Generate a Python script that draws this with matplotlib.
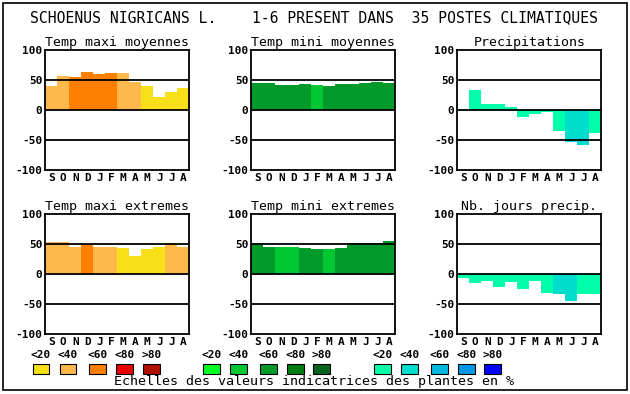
import matplotlib
matplotlib.use("Agg")
import matplotlib.pyplot as plt
from matplotlib.patches import Rectangle

plt.rcParams['font.family'] = ['DejaVu Sans Mono']

months = ["S", "O", "N", "D", "J", "F", "M", "A", "M", "J", "J", "A"]

temp_maxi_moy = [40, 57, 55, 63, 60, 62, 62, 47, 40, 22, 30, 37]
temp_maxi_moy_cls = [1, 1, 2, 2, 2, 2, 1, 1, 0, 0, 0, 0]

temp_mini_moy = [45, 45, 42, 42, 43, 42, 40, 43, 43, 45, 47, 45]
temp_mini_moy_cls = [2, 2, 2, 2, 2, 1, 2, 2, 2, 2, 2, 2]

precip = [2, 33, 10, 10, 5, -12, -7, -3, -35, -53, -58, -38]
precip_cls = [0, 0, 0, 0, 0, 0, 0, 0, 0, 1, 1, 0]

temp_maxi_ext = [54, 54, 46, 49, 46, 46, 43, 31, 42, 46, 52, 46]
temp_maxi_ext_cls = [1, 1, 1, 2, 1, 1, 0, 0, 0, 0, 1, 1]

temp_mini_ext = [52, 46, 46, 46, 43, 42, 42, 43, 52, 52, 52, 55]
temp_mini_ext_cls = [2, 2, 1, 1, 2, 2, 1, 2, 2, 2, 2, 2]

nb_jours = [-6, -14, -11, -21, -13, -24, -11, -31, -33, -44, -33, -33]
nb_jours_cls = [0, 0, 0, 0, 0, 0, 0, 0, 1, 1, 0, 0]

class_labels = ["<20", "<40", "<60", "<80", ">80"]
warm = ["#F8E018", "#FFB84C", "#FF8000", "#E80000", "#B01000"]
green = ["#00FF20", "#00C832", "#009A2A", "#007C10", "#006420"]
blue = ["#00FFAA", "#00DDCC", "#00B8E0", "#0098E8", "#0000FF"]

title = "SCHOENUS NIGRICANS L.    1-6 PRESENT DANS  35 POSTES CLIMATIQUES"
footer = "Echelles des valeurs indicatrices des plantes en %"

W, H = 630, 394
fig = plt.figure(figsize=(W / 100, H / 100), dpi=100)

def fx(px):
    return px / W

def fy(py):
    return 1 - py / H

# outer frame
fig.patches.append(Rectangle((fx(3), fy(390)), fx(624), (390 - 3) / H, transform=fig.transFigure,
                             fill=False, edgecolor="black", linewidth=1.2))

fig.text(fx(314), fy(18), title, ha="center", va="center", fontsize=10.6)

panels = [
    ("Temp maxi moyennes", temp_maxi_moy, temp_maxi_moy_cls, warm, 45.3, 50),
    ("Temp mini moyennes", temp_mini_moy, temp_mini_moy_cls, green, 251.3, 50),
    ("Precipitations", precip, precip_cls, blue, 457.3, 50),
    ("Temp maxi extremes", temp_maxi_ext, temp_maxi_ext_cls, warm, 45.3, 214.3),
    ("Temp mini extremes", temp_mini_ext, temp_mini_ext_cls, green, 251.3, 214.3),
    ("Nb. jours precip.", nb_jours, nb_jours_cls, blue, 457.3, 214.3),
]

aw, ah = 144, 120
x = list(range(len(months)))
for name, vals, cls, pal, left, top in panels:
    ax = fig.add_axes([fx(left), fy(top + ah), aw / W, ah / H])
    ax.bar(x, vals, width=1.0, color=[pal[c] for c in cls], linewidth=0, zorder=1)
    for g in (50, 0, -50):
        ax.axhline(g, color="black", linewidth=1.3, zorder=3)
    ax.set_xlim(-0.5, 11.5)
    ax.set_ylim(-100, 100)
    ax.set_yticks([100, 50, 0, -50, -100])
    ax.set_yticklabels(["100", "50", "0", "-50", "-100"], fontweight="bold", fontsize=8)
    ax.set_xticks(x)
    ax.set_xticklabels(months, fontweight="bold", fontsize=8)
    ax.tick_params(length=0, pad=2)
    for s in ax.spines.values():
        s.set_linewidth(1.3)
    ax.set_title(name, fontsize=9.5, pad=3)

# legends
box_lefts = [
    [32.7, 59.5, 89, 116, 143],
    [203, 230, 260, 287, 313],
    [374, 401, 431, 458, 484],
]
for lefts, pal in zip(box_lefts, [warm, green, blue]):
    for lx, lab, col in zip(lefts, class_labels, pal):
        fig.patches.append(Rectangle((fx(lx), fy(374)), fx(16.7), 10 / H, transform=fig.transFigure,
                                     facecolor=col, edgecolor="black", linewidth=0.8))
        fig.text(fx(lx + 8.3), fy(355), lab, ha="center", va="center", fontsize=8, fontweight="bold")

fig.text(fx(314), fy(382), footer, ha="center", va="center", fontsize=9.6)

fig.savefig("out.png", dpi=100)
